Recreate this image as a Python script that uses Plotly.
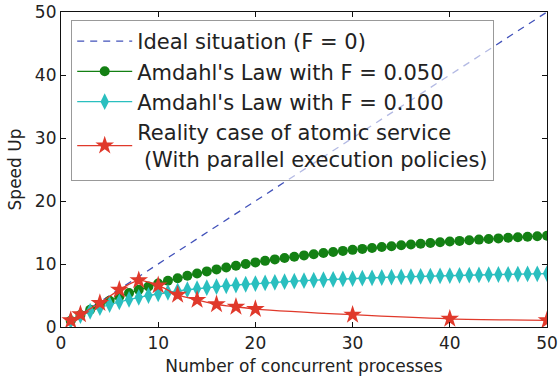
import plotly.graph_objects as go

# Data
procs = list(range(1, 51))
ideal = list(range(1, 51))
amdahl_005 = [1.0, 1.905, 2.727, 3.478, 4.167, 4.8, 5.385, 5.926, 6.429, 6.897,
              7.333, 7.742, 8.125, 8.485, 8.824, 9.143, 9.444, 9.730, 10.0, 10.256,
              10.5, 10.732, 10.952, 11.163, 11.364, 11.556, 11.739, 11.915, 12.083, 12.245,
              12.4, 12.549, 12.692, 12.830, 12.963, 13.091, 13.214, 13.333, 13.448, 13.559,
              13.667, 13.770, 13.871, 13.968, 14.063, 14.154, 14.242, 14.328, 14.412, 14.493]
amdahl_010 = [1.0, 1.818, 2.5, 3.077, 3.571, 4.0, 4.375, 4.706, 5.0, 5.263,
              5.5, 5.714, 5.909, 6.087, 6.25, 6.4, 6.538, 6.667, 6.786, 6.897,
              7.0, 7.097, 7.188, 7.273, 7.353, 7.429, 7.5, 7.568, 7.632, 7.692,
              7.75, 7.805, 7.857, 7.907, 7.955, 8.0, 8.043, 8.085, 8.125, 8.163,
              8.2, 8.235, 8.269, 8.302, 8.333, 8.364, 8.393, 8.421, 8.448, 8.475]
real_x = [1, 2, 4, 6, 8, 10, 12, 14, 16, 18, 20, 30, 40, 50]
real_y = [1.05, 2.0, 3.8, 5.9, 7.4, 6.6, 5.1, 4.3, 3.6, 3.2, 2.85, 1.95, 1.3, 1.05]
tick_vals = [0, 10, 20, 30, 40, 50]

FONT = "DejaVu Sans"
TXT = "#222222"

fig = go.Figure()
fig.add_trace(go.Scatter(x=procs, y=ideal, mode="lines", name="Ideal situation (F = 0)",
                         line=dict(color="#4252BA", width=1.3, dash="7px,6px")))
fig.add_trace(go.Scatter(x=procs, y=amdahl_005, mode="lines+markers",
                         name="Amdahl's Law with F = 0.050",
                         line=dict(color="#138013", width=1.3),
                         marker=dict(symbol="circle", size=10, color="#138013", line=dict(width=0))))
fig.add_trace(go.Scatter(x=procs, y=amdahl_010, mode="lines+markers",
                         name="Amdahl's Law with F = 0.100",
                         line=dict(color="#2ABFBF", width=1.3),
                         marker=dict(symbol="diamond-tall", size=12, color="#2ABFBF", line=dict(width=0))))
fig.add_trace(go.Scatter(x=real_x, y=real_y, mode="lines+markers",
                         name="Reality case of atomic service<br> (With parallel execution policies)",
                         line=dict(color="#E0392B", width=1.3, shape="spline", smoothing=0.8),
                         marker=dict(symbol="star", size=14, color="#E0392B", line=dict(width=0))))

axis_common = dict(showgrid=False, zeroline=False, showline=True, linecolor="#111111", linewidth=1.2,
                   mirror="ticks", ticks="inside", ticklen=5, tickcolor="#111111", tickwidth=1,
                   tickvals=tick_vals, tickfont=dict(family=FONT, size=17, color=TXT),
                   automargin=False)
fig.update_xaxes(range=[0, 50], title=dict(text="Number of concurrent processes",
                                           font=dict(family=FONT, size=17, color=TXT), standoff=8),
                 **axis_common)
fig.update_yaxes(range=[0, 50], title=dict(text="Speed Up",
                                           font=dict(family=FONT, size=17, color=TXT), standoff=8),
                 **axis_common)

fig.update_layout(
    width=559, height=378,
    margin=dict(l=61, r=12, t=12, b=51),
    paper_bgcolor="white", plot_bgcolor="white",
    font=dict(family=FONT, color=TXT),
    legend=dict(x=0.021, y=0.975, xanchor="left", yanchor="top",
                bgcolor="rgba(255,255,255,0.6)", bordercolor="#999999", borderwidth=1,
                font=dict(family=FONT, size=21, color=TXT), itemwidth=55),
    showlegend=True,
)

fig.write_html("out.html", config={"displayModeBar": False},
               post_script="document.body.style.margin='0';document.body.style.overflow='hidden';")
